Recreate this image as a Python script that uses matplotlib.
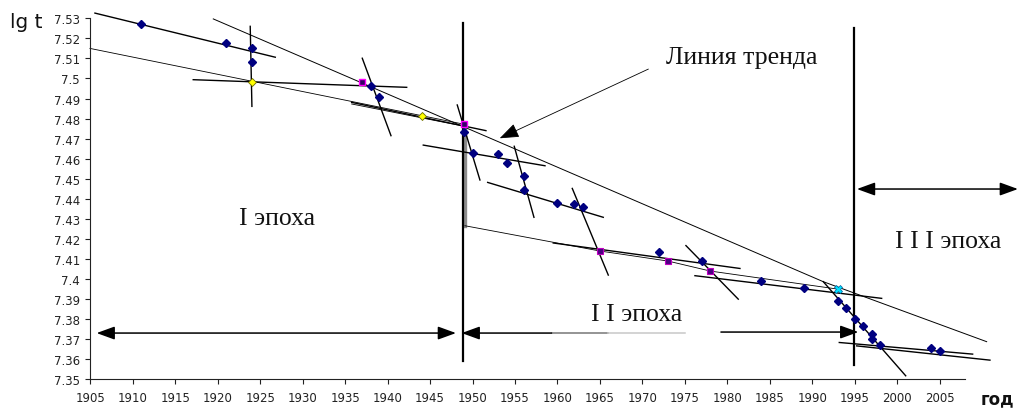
import matplotlib
matplotlib.use('Agg')
import matplotlib.pyplot as plt

# ---------------- data ----------------
years = [1911, 1921, 1924, 1924, 1938, 1939, 1949, 1950, 1953, 1954, 1956, 1956,
         1960, 1962, 1963, 1972, 1977, 1984, 1989, 1993, 1994, 1995, 1996, 1997,
         1997, 1998, 2004, 2005]
lgt = [7.527, 7.5175, 7.515, 7.508, 7.4965, 7.491, 7.4735, 7.463, 7.4625, 7.458,
       7.4515, 7.4445, 7.438, 7.4375, 7.436, 7.4135, 7.409, 7.399, 7.3955, 7.389,
       7.3855, 7.380, 7.3765, 7.3725, 7.370, 7.367, 7.3655, 7.364]

yellow_years = [1924, 1944]
yellow_vals = [7.4985, 7.4815]
magenta_years = [1937, 1949]
magenta_vals = [7.4985, 7.4775]
purple_years = [1965, 1973, 1978]
purple_vals = [7.414, 7.409, 7.404]
cyan_years = [1993]
cyan_vals = [7.395]

# trend segments: start year, start value, end year, end value
thick_x0 = [1905.55, 1923.83, 1917.12, 1935.77, 1937.02, 1948.20, 1944.20, 1954.91,
            1951.78, 1961.74, 1959.50, 1975.12, 1976.18, 1991.29, 1993.17, 1995.22]
thick_y0 = [7.5326, 7.5260, 7.4994, 7.4881, 7.5101, 7.4868, 7.4668, 7.4662,
            7.4482, 7.4452, 7.4180, 7.4167, 7.4017, 7.3987, 7.3684, 7.3667]
thick_x1 = [1926.78, 1924.03, 1942.25, 1951.58, 1940.40, 1950.87, 1958.53, 1957.23,
            1965.39, 1965.98, 1981.48, 1981.28, 1998.16, 2000.99, 2008.87, 2010.91]
thick_y1 = [7.5106, 7.4861, 7.4956, 7.4740, 7.4715, 7.4494, 7.4565, 7.4308,
            7.4308, 7.4020, 7.4053, 7.3900, 7.3904, 7.3518, 7.3626, 7.3596]

thin_x0 = [1904.96, 1935.77]
thin_y0 = [7.5150, 7.4873]
thin_x1 = [1948.87, 1948.87]
thin_y1 = [7.4773, 7.4763]

# long trend line (Линия тренда)
trend_years = [1919.48, 1991.29, 2010.52]
trend_vals = [7.5297, 7.3987, 7.3688]
# connecting line of highlighted points
conn_years = [1949.1, 1965, 1973, 1978, 1993]
conn_vals = [7.4266, 7.414, 7.409, 7.404, 7.395]
drop_years = [1949.1, 1949.1]
drop_vals = [7.4773, 7.4266]

# epoch boundaries
epoch_years = [1948.85, 1994.95]
epoch_top = [7.5277, 7.5250]
epoch_bottom = [7.3593, 7.3571]

xticks = [1905, 1910, 1915, 1920, 1925, 1930, 1935, 1940, 1945, 1950, 1955,
          1960, 1965, 1970, 1975, 1980, 1985, 1990, 1995, 2000, 2005]
yticks = [7.35, 7.36, 7.37, 7.38, 7.39, 7.40, 7.41, 7.42, 7.43, 7.44, 7.45,
          7.46, 7.47, 7.48, 7.49, 7.50, 7.51, 7.52, 7.53]
ytick_labels = ['7.35', '7.36', '7.37', '7.38', '7.39', '7.4', '7.41', '7.42',
                '7.43', '7.44', '7.45', '7.46', '7.47', '7.48', '7.49', '7.5',
                '7.51', '7.52', '7.53']

# ---------------- figure ----------------
fig = plt.figure(figsize=(10.21, 4.10), dpi=100)
ax = fig.add_axes([0.0884, 0.0722, 0.8570, 0.8807])
ax.set_xlim(1905, 2008)
ax.set_ylim(7.35, 7.53)

for s in ['top', 'right']:
    ax.spines[s].set_visible(False)
for s in ['left', 'bottom']:
    ax.spines[s].set_linewidth(0.8)
    ax.spines[s].set_color('#222222')

ax.set_xticks(xticks)
ax.set_xticklabels([str(x) for x in xticks])
ax.set_yticks(yticks)
ax.set_yticklabels(ytick_labels)
ax.tick_params(axis='both', direction='out', length=3.5, width=0.8,
               labelsize=8.5, colors='#222222')
ax.tick_params(axis='y', pad=4)
ax.tick_params(axis='x', pad=5)

# trend segments
for x0, y0, x1, y1 in zip(thick_x0, thick_y0, thick_x1, thick_y1):
    ax.plot([x0, x1], [y0, y1], color='black', lw=1.0, clip_on=False, zorder=2)
for x0, y0, x1, y1 in zip(thin_x0, thin_y0, thin_x1, thin_y1):
    ax.plot([x0, x1], [y0, y1], color='black', lw=0.6, clip_on=False, zorder=2)
ax.plot(trend_years, trend_vals, color='black', lw=0.7, clip_on=False, zorder=2)
ax.plot(conn_years, conn_vals, color='black', lw=0.6, clip_on=False, zorder=2)
ax.plot(drop_years, drop_vals, color='#8c8c8c', lw=2.4, clip_on=False, zorder=1)

# epoch boundaries
for x, t, b in zip(epoch_years, epoch_top, epoch_bottom):
    ax.plot([x, x], [b, t], color='black', lw=1.6, clip_on=False, zorder=3)

# points
ax.plot(years, lgt, linestyle='none', marker='D', markersize=3.8,
        color='#000080', zorder=5, clip_on=False)
ax.plot(yellow_years, yellow_vals, linestyle='none', marker='D', markersize=4.2,
        markerfacecolor='#ffff00', markeredgecolor='#6b6b00', markeredgewidth=0.6, zorder=6)
ax.plot(magenta_years, magenta_vals, linestyle='none', marker='s', markersize=4.2,
        markerfacecolor='#330066', markeredgecolor='#ff00ff', markeredgewidth=1.0, zorder=6)
ax.plot(purple_years, purple_vals, linestyle='none', marker='s', markersize=4.0,
        markerfacecolor='#4b0082', markeredgecolor='#c000c0', markeredgewidth=0.8, zorder=6)
ax.plot(cyan_years, cyan_vals, linestyle='none', marker='X', markersize=6,
        markerfacecolor='#00e5ff', markeredgecolor='#0060a0', markeredgewidth=0.5, zorder=6)

# arrows
def darrow(x0, x1, y, style='<|-|>'):
    ax.annotate('', xy=(x1, y), xytext=(x0, y), xycoords='data',
                arrowprops=dict(arrowstyle=style + ',head_length=1.1,head_width=0.4',
                                color='black', lw=1.1, shrinkA=0, shrinkB=0),
                annotation_clip=False)

darrow(1905.75, 1948.05, 7.3731)
darrow(1959.3, 1948.72, 7.3731, style='-|>')
ax.plot([1959.3, 1966.0], [7.3731, 7.3731], color='#777777', lw=1.1, clip_on=False)
ax.plot([1966.0, 1975.0], [7.3731, 7.3731], color='#c8c8c8', lw=1.1, clip_on=False)
darrow(1979.24, 1995.41, 7.3736, style='-|>')
darrow(1995.25, 2014.2, 7.4449)

# trend label arrow
ax.annotate('', xy=(1953.2, 7.4702), xytext=(1970.7, 7.5047), xycoords='data',
            arrowprops=dict(arrowstyle='-|>,head_length=1.2,head_width=0.45',
                            color='black', lw=0.6, shrinkA=0, shrinkB=0),
            annotation_clip=False)

serif = ['Liberation Serif', 'DejaVu Serif']
ax.text(1981.66, 7.5077, 'Линия тренда', family=serif, fontsize=18.5,
        ha='center', va='baseline', color='#111111')
ax.text(1926.94, 7.4274, 'I эпоха', family=serif, fontsize=18.5,
        ha='center', va='baseline', color='#111111')
ax.text(1969.30, 7.3797, 'I I эпоха', family=serif, fontsize=18.5,
        ha='center', va='baseline', color='#111111')
ax.text(2006.0, 7.4158, 'I I I эпоха', family=serif, fontsize=18.5,
        ha='center', va='baseline', color='#111111', clip_on=False)

fig.text(10 / 1021, 1 - 28.3 / 410, 'lg t', fontsize=14.5, ha='left',
         va='baseline', color='#111111')
fig.text(981 / 1021, 1 - 404.5 / 410, 'год', fontsize=12, fontweight='bold',
         ha='left', va='baseline', color='#111111')

fig.savefig('out.png', dpi=100)
